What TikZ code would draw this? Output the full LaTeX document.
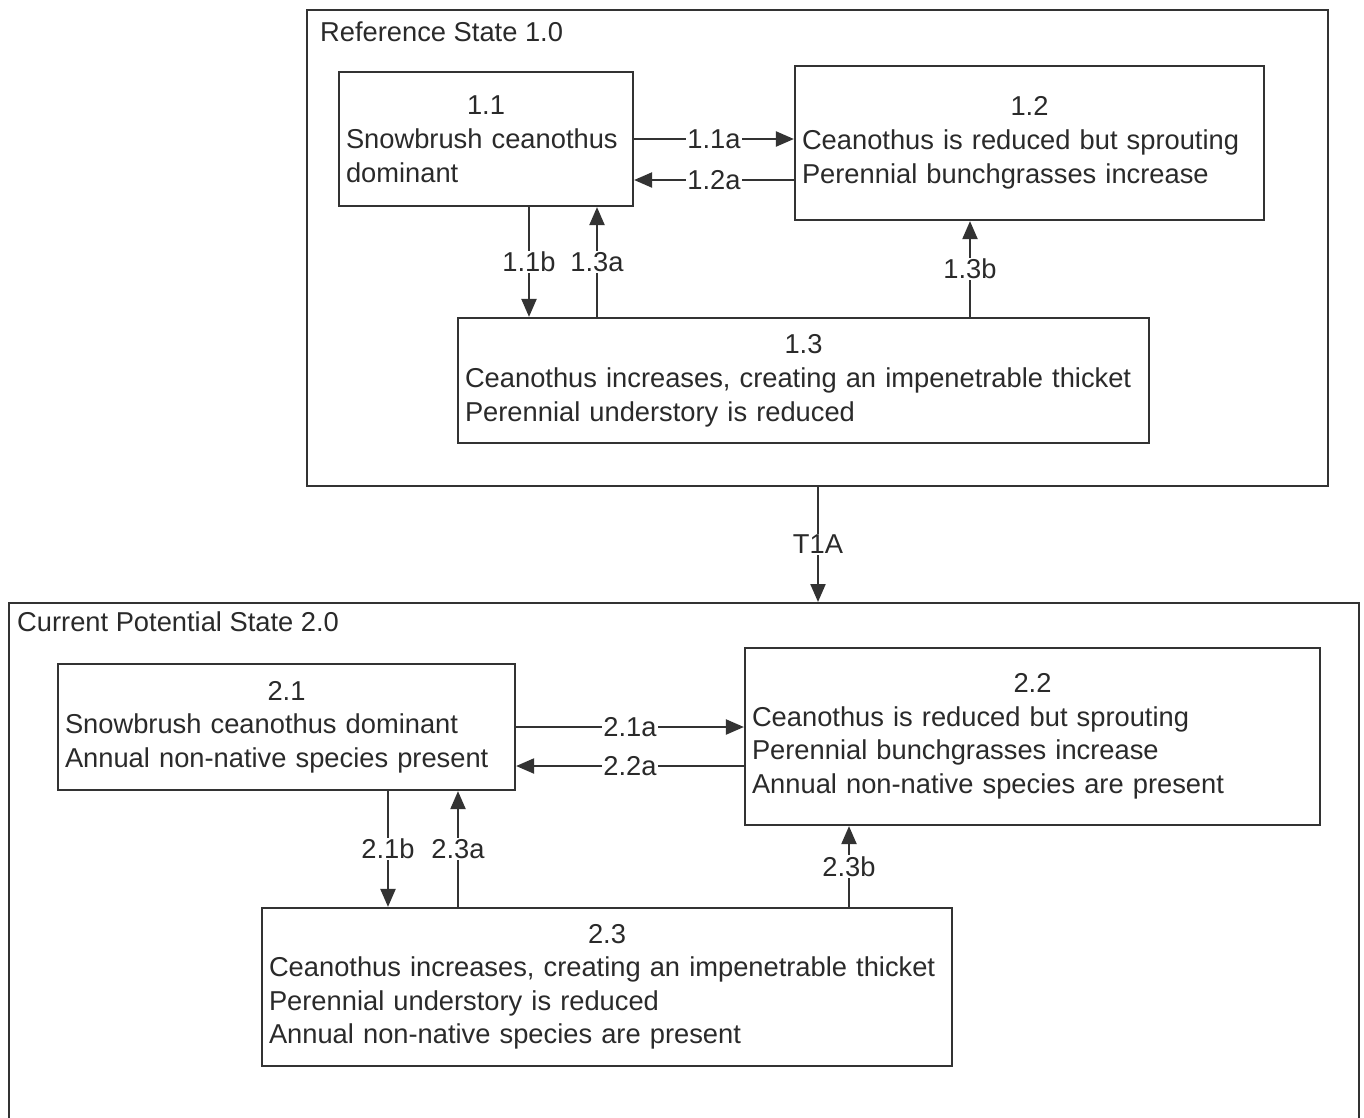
\documentclass[tikz,border=0pt]{standalone}
\usepackage{fontspec}
\setmainfont{Liberation Sans}
\usetikzlibrary{arrows.meta}
\definecolor{ln}{HTML}{333333}
\definecolor{tx}{HTML}{2A2A2A}
\begin{document}
\begin{tikzpicture}[x=1pt,y=-1pt,
  every node/.style={text=tx},
  txt/.style={font=\fontsize{27.3}{34}\selectfont},
  frame/.style={draw=ln,line width=2.2pt,fill=white},
  box/.style={frame,txt,inner xsep=7pt,inner ysep=0pt,anchor=center},
  arr/.style={draw=ln,line width=2.2pt,-{Triangle[length=18pt,width=15pt]}},
  lbl/.style={txt,fill=white,inner sep=1pt}]
\clip (0,0) rectangle (1364,1117);
\fill[white] (0,0) rectangle (1364,1117);
% State 1
\node[frame,minimum width=1021pt,minimum height=476pt,inner sep=0pt] (s1) at (817.5,248) {};
\node[txt,anchor=west,inner sep=0pt] (s1t) at (320,32) {Reference State 1.0};
\node[box,minimum width=294pt,minimum height=134pt,text width=280pt] (b11) at (486,139)
  {{\centering 1.1\par}\raggedright Snowbrush ceanothus\\dominant};
\node[box,minimum width=469pt,minimum height=154pt,text width=455pt] (b12) at (1029.5,143)
  {{\centering 1.2\par}\raggedright Ceanothus is reduced but sprouting\\Perennial bunchgrasses increase};
\node[box,minimum width=691pt,minimum height=125pt,text width=677pt] (b13) at (803.5,380.5)
  {{\centering 1.3\par}\raggedright Ceanothus increases, creating an impenetrable thicket\\Perennial understory is reduced};
\draw[arr] (b11.east |- 0,139) -- (b12.west |- 0,139) node[midway,lbl]{1.1a};
\draw[arr] (b12.west |- 0,180) -- (b11.east |- 0,180) node[midway,lbl]{1.2a};
\draw[arr] (529,0 |- b11.south) -- (529,0 |- b13.north) node[midway,lbl]{1.1b};
\draw[arr] (597,0 |- b13.north) -- (597,0 |- b11.south) node[midway,lbl]{1.3a};
\draw[arr] (970,0 |- b13.north) -- (970,0 |- b12.south) node[midway,lbl]{1.3b};
% State 2
\node[frame,minimum width=1350pt,minimum height=560pt,inner sep=0pt,anchor=north west] (s2) at (8,602) {};
\draw[arr] (818,0 |- s1.south) -- (818,0 |- s2.north) node[midway,lbl]{T1A};
\node[txt,anchor=west,inner sep=0pt] (s2t) at (17,622) {Current Potential State 2.0};
\begin{scope}[txt/.style={font=\fontsize{27.3}{33.5}\selectfont}]
\node[box,minimum width=457pt,minimum height=126pt,text width=443pt] (b21) at (286.5,727)
  {{\centering 2.1\par}\raggedright Snowbrush ceanothus dominant\\Annual non-native species present};
\node[box,minimum width=575pt,minimum height=177pt,text width=561pt] (b22) at (1032.5,736.5)
  {{\centering 2.2\par}\raggedright Ceanothus is reduced but sprouting\\Perennial bunchgrasses increase\\Annual non-native species are present};
\node[box,minimum width=690pt,minimum height=158pt,text width=676pt] (b23) at (607,987)
  {{\centering 2.3\par}\raggedright Ceanothus increases, creating an impenetrable thicket\\Perennial understory is reduced\\Annual non-native species are present};
\end{scope}
\draw[arr] (b21.east |- 0,727) -- (b22.west |- 0,727) node[midway,lbl]{2.1a};
\draw[arr] (b22.west |- 0,766) -- (b21.east |- 0,766) node[midway,lbl]{2.2a};
\draw[arr] (388,0 |- b21.south) -- (388,0 |- b23.north) node[midway,lbl]{2.1b};
\draw[arr] (458,0 |- b23.north) -- (458,0 |- b21.south) node[midway,lbl]{2.3a};
\draw[arr] (849,0 |- b23.north) -- (849,0 |- b22.south) node[midway,lbl]{2.3b};
\end{tikzpicture}
\end{document}
